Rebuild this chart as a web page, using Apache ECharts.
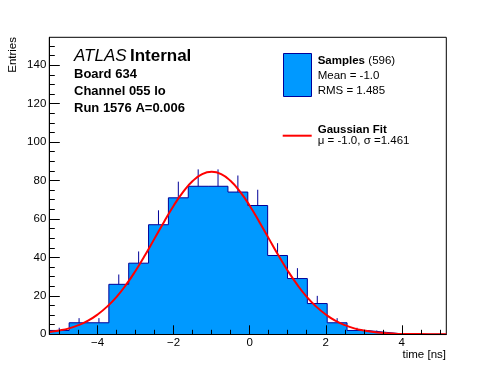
<!DOCTYPE html>
<html><head><meta charset="utf-8">
<script src="https://cdn.jsdelivr.net/npm/echarts@6/dist/echarts.min.js"></script>
<style>html,body{margin:0;padding:0;background:#fff}#c{width:496px;height:372px}</style>
</head><body><div id="c"></div>
<script>
// ---- data ----
const xMin = -5.27, xMax = 5.17, binWidth = 0.522;
const counts = [2, 6, 6, 26, 37, 57, 71, 77, 77, 74, 67, 41, 29, 16, 6, 2, 1, 0, 0, 0];
const errors = [1.4, 2.4, 2.4, 5.1, 6.1, 7.5, 8.4, 8.8, 8.8, 8.6, 8.2, 6.4, 5.4, 4.0, 2.4, 1.4, 1.0, 0, 0, 0];
const fitX = [-5.27,-5,-4.75,-4.5,-4.25,-4,-3.75,-3.5,-3.25,-3,-2.75,-2.5,-2.25,-2,-1.75,-1.5,-1.25,-1,-0.75,-0.5,-0.25,0,0.25,0.5,0.75,1,1.25,1.5,1.75,2,2.25,2.5,2.75,3,3.25,3.5,3.75,4,4.5,5,5.17];
const fitY = [1.2,2.0,3.1,4.8,7.1,10.3,14.4,19.5,25.8,33.1,41.2,49.9,58.6,66.9,74.1,79.7,83.3,84.5,83.3,79.7,74.1,66.9,58.6,49.9,41.2,33.1,25.8,19.5,14.4,10.3,7.1,4.8,3.1,2.0,1.2,0.7,0.4,0.2,0.1,0,0];
const xTickLabels = [-4, -2, 0, 2, 4];
const xMinorTicks = [-5,-4.5,-3.5,-3,-2.5,-1.5,-1,-0.5,0.5,1,1.5,2.5,3,3.5,4.5,5];
const yTickLabels = [0, 20, 40, 60, 80, 100, 120, 140];
const yMinorTicks = [5,10,15,25,30,35,45,50,55,65,70,75,85,90,95,105,110,115,125,130,135,145,150];
const yMax = 154.5;

const FONT = "'Liberation Sans', Arial, Helvetica, sans-serif";
const HIST_FILL = '#0099ff', HIST_LINE = '#000099';

const stepData = counts.map((c, i) => [xMin + i * binWidth, c]);
stepData.push([xMax, counts[counts.length - 1]]);
const errData = counts.map((c, i) => [xMin + (i + 0.5) * binWidth, c, errors[i]]);
const fitData = fitX.map((x, i) => [x, fitY[i]]);

const chart = echarts.init(document.getElementById('c'), null, {renderer: 'canvas'});
const axisLabelStyle = {color: '#000', fontFamily: FONT, fontSize: 11.5};
chart.setOption({
  animation: false,
  grid: {left: 49.3, right: 49.7, top: 37.3, bottom: 37.7, show: true, borderColor: '#000', borderWidth: 1, backgroundColor: 'transparent'},
  xAxis: [{
    type: 'value', min: xMin, max: xMax, z: 10,
    axisLine: {show: true, onZero: false, lineStyle: {color: '#000', width: 1}},
    axisTick: {show: true, inside: true, length: 9, customValues: xTickLabels, lineStyle: {color: '#000'}},
    axisLabel: {show: true, customValues: xTickLabels, margin: 3, ...axisLabelStyle,
      formatter: v => String(v).replace('-', '\u2212')},
    splitLine: {show: false}
  }, {
    type: 'value', min: xMin, max: xMax, position: 'bottom', z: 10,
    axisLine: {show: false, onZero: false},
    axisTick: {show: true, inside: true, length: 4.5, customValues: xMinorTicks, lineStyle: {color: '#000'}},
    axisLabel: {show: false}, splitLine: {show: false}
  }],
  yAxis: [{
    type: 'value', min: 0, max: yMax, z: 10, position: 'left',
    axisLine: {show: true, onZero: false, lineStyle: {color: '#000', width: 1}},
    axisTick: {show: true, inside: true, length: 10.5, customValues: yTickLabels, lineStyle: {color: '#000'}},
    axisLabel: {show: true, customValues: yTickLabels, margin: 3, ...axisLabelStyle},
    splitLine: {show: false}
  }, {
    type: 'value', min: 0, max: yMax, position: 'left', offset: 0, z: 10,
    axisLine: {show: false, onZero: false},
    axisTick: {show: true, inside: true, length: 5.5, customValues: yMinorTicks, lineStyle: {color: '#000'}},
    axisLabel: {show: false}, splitLine: {show: false}
  }],
  series: [{
    type: 'custom', xAxisIndex: 0, yAxisIndex: 0, z: 1,
    data: errData,
    renderItem: (params, api) => {
      const p0 = api.coord([api.value(0), api.value(1)]);
      const p1 = api.coord([api.value(0), api.value(1) + api.value(2)]);
      return {type: 'line', shape: {x1: p0[0], y1: p0[1], x2: p1[0], y2: p1[1]},
        style: {stroke: HIST_LINE, lineWidth: 1}};
    },
    clip: true
  }, {
    type: 'line', xAxisIndex: 0, yAxisIndex: 0, z: 2,
    data: stepData, step: 'end', symbol: 'none',
    lineStyle: {color: HIST_LINE, width: 1},
    areaStyle: {color: HIST_FILL, opacity: 1, origin: 'start'},
    clip: true
  }, {
    type: 'line', xAxisIndex: 0, yAxisIndex: 0, z: 5,
    data: fitData, smooth: true, symbol: 'none',
    lineStyle: {color: '#ff0000', width: 2},
    clip: true
  }],
  graphic: [
    {type: 'text', x: 12.5, y: 37, rotation: Math.PI / 2,
      style: {text: 'Entries', font: '11.5px ' + FONT, fill: '#000', align: 'right', verticalAlign: 'middle'}},
    {type: 'text', x: 446, y: 355,
      style: {text: 'time [ns]', font: '11.5px ' + FONT, fill: '#000', align: 'right', verticalAlign: 'middle'}},
    {type: 'text', x: 74, y: 56.7,
      style: {text: '{i|ATLAS} {b|Internal}', fill: '#000', align: 'left', verticalAlign: 'middle',
        rich: {i: {fontFamily: FONT, fontSize: 17, fontStyle: 'italic', fill: '#000'},
               b: {fontFamily: FONT, fontSize: 17, fontWeight: 'bold', fill: '#000'}}}},
    {type: 'text', x: 74, y: 74.7,
      style: {text: 'Board 634', font: 'bold 13px ' + FONT, fill: '#000', align: 'left', verticalAlign: 'middle'}},
    {type: 'text', x: 74, y: 91.7,
      style: {text: 'Channel 055 lo', font: 'bold 13px ' + FONT, fill: '#000', align: 'left', verticalAlign: 'middle'}},
    {type: 'text', x: 74, y: 108.5,
      style: {text: 'Run 1576 A=0.006', font: 'bold 13px ' + FONT, fill: '#000', align: 'left', verticalAlign: 'middle'}},
    {type: 'rect', shape: {x: 283.5, y: 53.5, width: 28, height: 43},
      style: {fill: HIST_FILL, stroke: HIST_LINE, lineWidth: 1}},
    {type: 'text', x: 317.7, y: 61.3,
      style: {text: '{b|Samples} {r|(596)}', fill: '#000', align: 'left', verticalAlign: 'middle',
        rich: {b: {fontFamily: FONT, fontSize: 11.5, fontWeight: 'bold', fill: '#000'},
               r: {fontFamily: FONT, fontSize: 11.5, fill: '#000'}}}},
    {type: 'text', x: 317.7, y: 76.2,
      style: {text: 'Mean = -1.0', font: '11.5px ' + FONT, fill: '#000', align: 'left', verticalAlign: 'middle'}},
    {type: 'text', x: 317.7, y: 90.8,
      style: {text: 'RMS = 1.485', font: '11.5px ' + FONT, fill: '#000', align: 'left', verticalAlign: 'middle'}},
    {type: 'line', shape: {x1: 282.7, y1: 135.7, x2: 311.7, y2: 135.7},
      style: {stroke: '#ff0000', lineWidth: 2}},
    {type: 'text', x: 317.7, y: 129.5,
      style: {text: 'Gaussian Fit', font: 'bold 11.5px ' + FONT, fill: '#000', align: 'left', verticalAlign: 'middle'}},
    {type: 'text', x: 317.7, y: 140.8,
      style: {text: '\u03bc = -1.0, \u03c3 =1.461', font: '11.5px ' + FONT, fill: '#000', align: 'left', verticalAlign: 'middle'}}
  ]
});
</script>
</body></html>
